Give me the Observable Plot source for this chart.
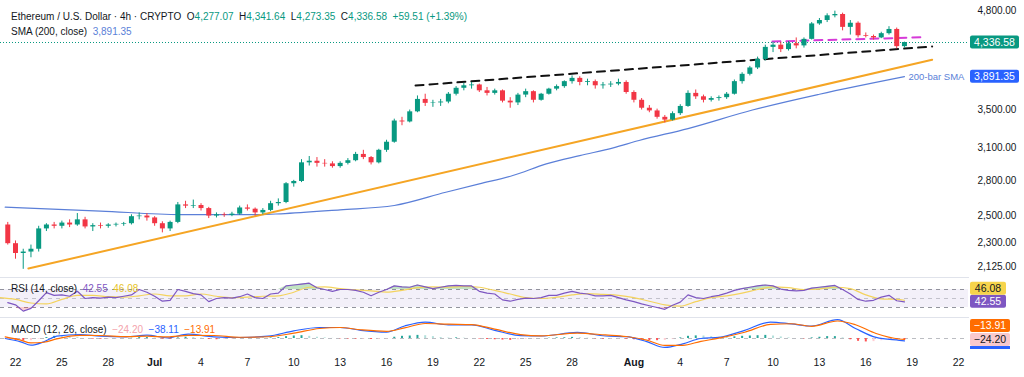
<!DOCTYPE html>
<html><head><meta charset="utf-8">
<script src="https://cdn.jsdelivr.net/npm/d3@7"></script>
<script src="https://cdn.jsdelivr.net/npm/@observablehq/plot@0.6"></script>
<style>
html,body{margin:0;padding:0;background:#fff;}
#wrap{position:relative;width:1024px;height:377px;overflow:hidden;background:#fff;font-family:"Liberation Sans",Arial,sans-serif;color:#131722;}
.lbl{position:absolute;left:11px;font-size:10px;white-space:nowrap;line-height:14px;}
</style></head><body><div id="wrap"></div>
<script>
// ---------- header texts ----------
const titleText = "Ethereum / U.S. Dollar · 4h · CRYPTO";
const ohlcKeys = ["O", "H", "L", "C"];
const ohlcVals = ["4,277.07", "4,341.64", "4,273.35", "4,336.58"];
const changeText = "+59.51 (+1.39%)";
const smaTitle = "SMA (200, close)";
const smaValText = "3,891.35";
const rsiTitle = "RSI (14, close)";
const rsiValTexts = ["42.55", "46.08"];
const macdTitle = "MACD (12, 26, close)";
const macdValTexts = ["\u221224.20", "\u221238.11", "\u221213.91"];
const smaLabel = "200-bar SMA";

// ---------- price candles (12h) ----------
const candleStart = "2025-06-21T12:00:00Z";
const firstOpen = 2430;
const closes = [2290,2220,2230,2250,2400,2430,2420,2445,2430,2470,2415,2425,2420,2430,2435,2440,2495,2500,2485,2440,2400,2450,2590,2580,2585,2560,2500,2510,2505,2515,2565,2555,2525,2545,2600,2610,2770,2790,2960,2975,2955,2950,2925,2955,2980,3040,3010,2960,3080,3160,3380,3370,3480,3620,3575,3580,3590,3680,3750,3780,3790,3720,3690,3720,3600,3580,3670,3710,3610,3680,3740,3770,3830,3870,3820,3830,3780,3790,3800,3820,3700,3610,3520,3490,3420,3390,3460,3540,3690,3650,3610,3630,3640,3680,3830,3920,4000,4110,4270,4300,4240,4320,4290,4380,4600,4650,4720,4740,4550,4610,4430,4420,4400,4460,4520,4280,4336.58];
const highs = [2450,2310,2250,2280,2420,2440,2450,2460,2470,2520,2490,2440,2445,2440,2445,2450,2510,2525,2520,2495,2455,2460,2610,2620,2630,2600,2570,2525,2525,2530,2580,2590,2565,2560,2620,2640,2780,2800,2990,3020,3010,2990,2970,2970,3000,3060,3080,3020,3090,3180,3400,3420,3500,3660,3680,3610,3620,3700,3770,3810,3820,3800,3760,3740,3730,3640,3690,3740,3720,3690,3750,3790,3840,3900,3890,3860,3850,3820,3830,3860,3840,3720,3630,3550,3510,3440,3480,3560,3720,3730,3670,3650,3660,3700,3850,3940,4020,4140,4300,4340,4340,4350,4400,4400,4620,4680,4750,4790,4760,4650,4630,4470,4440,4480,4560,4540,4341.64];
const lows = [2280,2180,2111,2190,2230,2380,2400,2400,2410,2420,2400,2380,2400,2405,2415,2420,2430,2470,2460,2420,2370,2380,2440,2560,2560,2540,2480,2485,2490,2495,2505,2540,2500,2510,2535,2580,2600,2740,2780,2930,2920,2920,2910,2910,2940,2970,2990,2940,2950,3060,3150,3330,3360,3470,3540,3530,3540,3570,3660,3720,3740,3700,3660,3670,3580,3520,3550,3640,3580,3600,3670,3720,3750,3800,3780,3780,3740,3740,3760,3780,3680,3580,3500,3470,3400,3360,3380,3440,3530,3620,3580,3590,3600,3620,3670,3800,3900,3980,4090,4200,4200,4220,4250,4260,4370,4580,4620,4690,4500,4440,4400,4400,4370,4390,4440,4250,4260];

// ---------- 200-bar SMA ----------
const smaDates = ["2025-06-21T08:00Z","2025-06-27T12:00Z","2025-07-02T16:00Z","2025-07-07T20:00Z","2025-07-09T04:00Z","2025-07-13T00:00Z","2025-07-16T12:00Z","2025-07-19T20:00Z","2025-07-22T00:00Z","2025-07-24T04:00Z","2025-07-26T08:00Z","2025-07-28T12:00Z","2025-07-30T16:00Z","2025-08-01T08:00Z","2025-08-04T12:00Z","2025-08-08T16:00Z","2025-08-13T00:00Z","2025-08-18T12:00Z"];
const smaValues = [2571,2540,2512,2512,2518,2550,2585,2696,2769,2843,2950,3029,3104,3177,3300,3500,3680,3891.35];

// ---------- drawn trend lines ----------
const orangeDates = ["2025-06-22T20:00Z","2025-08-20T07:00Z"];
const orangePrices = [2116, 4105];
const blackDates = ["2025-07-17T21:00Z","2025-08-20T07:00Z"];
const blackPrices = [3783, 4282];
const magentaDates = ["2025-08-09T23:00Z","2025-08-19T13:00Z"];
const magentaPrices = [4350, 4408];

// ---------- RSI (12h samples) ----------
const rsiValues = [41,36,22,28,45,63,57,58,55,66,50,52,51,53,52,55,58,70,64,55,44,46,70,66,61,58,43,50,52,51,54,60,52,50,60,62,78,80,82,84,74,70,66,70,70,68,64,56,64,70,78,76,75,80,76,72,75,78,79,78,78,66,62,60,47,44,48,51,50,52,57,57,62,66,62,60,56,56,57,52,47,43,38,34,30,26,35,42,58,52,50,54,57,62,68,72,75,78,80,78,71,68,67,68,73,75,77,79,70,60,48,44,46,53,57,45,42.55];
const rsiMaStart = "2025-06-21T00:00Z";
const rsiMaDaily = [52,48,40,38,48,57,57,54,53,56,60,56,56,60,55,52,53,55,56,64,75,76,72,69,67,64,68,74,76,75,77,75,68,60,52,50,53,58,61,59,57,52,44,36,33,43,52,56,62,70,76,74,70,71,75,72,58,49,48];
const rsiMaLastDate = "2025-08-18T12:00Z";
const rsiMaLast = 46.08;

// ---------- MACD ----------
const macdDates = ["2025-06-21T08:00Z","2025-06-22T08:00Z","2025-06-23T00:00Z","2025-06-23T20:00Z","2025-06-24T16:00Z","2025-06-26T04:00Z","2025-06-27T12:00Z","2025-06-29T04:00Z","2025-06-30T12:00Z","2025-07-01T20:00Z","2025-07-03T04:00Z","2025-07-04T20:00Z","2025-07-06T12:00Z","2025-07-08T08:00Z","2025-07-10T00:00Z","2025-07-11T16:00Z","2025-07-13T00:00Z","2025-07-14T08:00Z","2025-07-16T00:00Z","2025-07-17T04:00Z","2025-07-18T12:00Z","2025-07-20T00:00Z","2025-07-21T12:00Z","2025-07-23T00:00Z","2025-07-24T16:00Z","2025-07-26T00:00Z","2025-07-28T08:00Z","2025-07-30T04:00Z","2025-07-31T12:00Z","2025-08-01T20:00Z","2025-08-03T00:00Z","2025-08-04T04:00Z","2025-08-05T08:00Z","2025-08-06T12:00Z","2025-08-08T04:00Z","2025-08-09T20:00Z","2025-08-11T04:00Z","2025-08-12T12:00Z","2025-08-14T04:00Z","2025-08-15T08:00Z","2025-08-16T16:00Z","2025-08-18T04:00Z","2025-08-18T12:00Z"];
const macdLine = [0,-53,-107,-53,37,64,37,27,53,10,69,27,16,37,123,176,176,131,103,200,263,217,217,131,46,40,97,40,29,-51,-143,-86,0,17,131,263,234,200,303,160,17,-29,-38.11];
const macdSignal = [25,-27,-70,-60,-5,50,48,30,37,25,50,48,20,28,85,160,176,140,115,170,240,229,222,150,62,42,86,57,32,-25,-110,-109,-45,5,100,225,236,195,280,220,80,-8,-13.91];
const macdHist = [-20,-30,-40,-35,-10,15,35,30,20,15,0,-10,-12,-8,-5,-2,5,15,15,5,-10,-12,10,20,15,5,-15,-20,-15,-8,-2,5,3,5,10,15,30,40,45,35,20,10,2,-5,-8,-10,-10,-15,-12,-5,20,35,40,50,45,30,15,8,10,5,0,-8,-15,-20,-25,-30,-20,-12,-8,-4,5,10,12,18,12,5,-5,-10,-8,-5,-12,-20,-28,-32,-35,-30,-10,10,35,42,40,30,20,18,28,35,40,45,50,40,25,10,0,-5,10,20,30,30,10,-20,-45,-55,-50,-35,-20,-22,-24.2];

// ---------- axes ----------
const priceTicks = [2125, 2300, 2500, 2800, 3100, 3500, 4800];
const timeTicks = ["2025-06-22","2025-06-25","2025-06-28","2025-07-01","2025-07-04","2025-07-07","2025-07-10","2025-07-13","2025-07-16","2025-07-19","2025-07-22","2025-07-25","2025-07-28","2025-08-01","2025-08-04","2025-08-07","2025-08-10","2025-08-13","2025-08-16","2025-08-19","2025-08-22"];
const timeTickLabels = ["22","25","28","Jul","4","7","10","13","16","19","22","25","28","Aug","4","7","10","13","16","19","22"];
const monthNames = ["Jul","Aug"];

// ---------- build ----------
const UP = "#089981", DOWN = "#f23645";
const FONT = '"Liberation Sans", Arial, sans-serif';
const H12 = 12 * 3600 * 1000, DAY = 24 * 3600 * 1000;
const t0 = Date.parse(candleStart);
const candles = closes.map((c, i) => ({
  t: new Date(t0 + i * H12), o: i === 0 ? firstOpen : closes[i - 1], h: highs[i], l: lows[i], c
}));
candles.forEach(d => d.col = d.c >= d.o ? UP : DOWN);
const lastClose = closes[closes.length - 1];
const smaRows = smaDates.map((d, i) => ({t: new Date(d), v: smaValues[i]}));
const lineRows = (ds, vs) => ds.map((d, i) => ({t: new Date(d), v: vs[i]}));
const rsiRows = rsiValues.map((v, i) => ({t: new Date(t0 + i * H12), v}));
const rsiMaRows = rsiMaDaily.map((v, i) => ({t: new Date(Date.parse(rsiMaStart) + i * DAY), v}))
  .concat([{t: new Date(rsiMaLastDate), v: rsiMaLast}]);
const macdRows = macdDates.map((d, i) => ({t: new Date(d), m: macdLine[i], s: macdSignal[i]}));
const histRows = macdHist.map((v, i) => {
  const prev = i > 0 ? macdHist[i - 1] : v;
  let col;
  if (v >= 0) col = v >= prev ? "#26a69a" : "#b2dfdb";
  else col = v < prev ? "#ff5252" : "#ffcdd2";
  return {t: new Date(t0 + i * H12), v, col};
});

const xDomain = [new Date(Date.UTC(2025, 5, 21, 0, 43)), new Date(Date.UTC(2025, 7, 22, 15, 26))];
const common = {
  width: 1024, marginLeft: 0, marginRight: 56, marginTop: 0,
  style: {fontFamily: FONT, fontSize: "10px", color: "#131722", background: "transparent", overflow: "visible"},
  color: {type: "identity"}
};
const xOpt = {type: "utc", domain: xDomain, axis: null, label: null};
const wrap = document.getElementById("wrap");

const main = Plot.plot({
  ...common, height: 277, marginBottom: 0,
  x: xOpt,
  y: {type: "log", domain: [2057, 4955], axis: null, label: null},
  marks: [
    Plot.ruleY([lastClose], {stroke: UP, strokeDasharray: "1,2", strokeWidth: 1}),
    Plot.line(smaRows, {x: "t", y: "v", stroke: "#5b7fd8", strokeWidth: 1.2, curve: "monotone-x"}),
    Plot.line(lineRows(orangeDates, orangePrices), {x: "t", y: "v", stroke: "#f5a524", strokeWidth: 2}),
    Plot.line(lineRows(blackDates, blackPrices), {x: "t", y: "v", stroke: "#111", strokeWidth: 2, strokeDasharray: "8,6"}),
    Plot.line(lineRows(magentaDates, magentaPrices), {x: "t", y: "v", stroke: "#d63ad8", strokeWidth: 2, strokeDasharray: "8,6"}),
    Plot.ruleX(candles, {x: "t", y1: "l", y2: "h", stroke: "col", strokeWidth: 1}),
    Plot.ruleX(candles, {x: "t", y1: "o", y2: "c", stroke: "col", strokeWidth: 5}),
    Plot.text(smaRows.slice(-1), {x: "t", y: "v", text: () => smaLabel, dx: 4, textAnchor: "start", fill: "#5b7fd8", fontSize: 9.5}),
    Plot.axisY({anchor: "right", ticks: priceTicks, tickFormat: d3.format(",.2f"), tickSize: 0, tickPadding: 9, fill: "#131722", fontSize: 10, label: null})
  ]
});

const rsiPlot = Plot.plot({
  ...common, height: 40, marginBottom: 0,
  x: xOpt,
  y: {domain: [7.8, 96.7], axis: null, label: null},
  marks: [
    Plot.rectY([0], {x1: () => xDomain[0], x2: () => xDomain[1], y1: 30, y2: 70, fill: "#7e57c2", fillOpacity: 0.09}),
    Plot.ruleY([70, 30], {stroke: "#787b86", strokeDasharray: "4,4", strokeOpacity: 0.8}),
    Plot.ruleY([50], {stroke: "#787b86", strokeDasharray: "4,4", strokeOpacity: 0.4}),
    Plot.areaY(rsiRows, {x: "t", y1: 70, y2: d => Math.max(70, d.v), fill: "#4caf50", fillOpacity: 0.35}),
    Plot.areaY(rsiRows, {x: "t", y1: 30, y2: d => Math.min(30, d.v), fill: "#f23645", fillOpacity: 0.25}),
    Plot.line(rsiMaRows, {x: "t", y: "v", stroke: "#f4d35e", strokeWidth: 1.2, curve: "monotone-x"}),
    Plot.line(rsiRows, {x: "t", y: "v", stroke: "#7e57c2", strokeWidth: 1.2}),
    Plot.frame({anchor: "top", stroke: "#e0e3eb"})
  ]
});

const labelByTime = new Map(timeTicks.map((d, i) => [Date.parse(d), timeTickLabels[i]]));
const dayTicks = timeTicks.filter((d, i) => !monthNames.includes(timeTickLabels[i])).map(d => new Date(d));
const monthTicks = timeTicks.filter((d, i) => monthNames.includes(timeTickLabels[i])).map(d => new Date(d));

const macdPlot = Plot.plot({
  ...common, height: 60, marginBottom: 25,
  x: xOpt,
  y: {domain: [-224, 336], axis: null, label: null},
  marks: [
    Plot.ruleY([0], {stroke: "#787b86", strokeDasharray: "4,4", strokeOpacity: 0.5}),
    Plot.ruleX(histRows, {x: "t", y1: 0, y2: "v", stroke: "col", strokeWidth: 2}),
    Plot.line(macdRows, {x: "t", y: "m", stroke: "#2962ff", strokeWidth: 1.2, curve: "monotone-x"}),
    Plot.line(macdRows, {x: "t", y: "s", stroke: "#ff6d00", strokeWidth: 1.2, curve: "monotone-x"}),
    Plot.frame({anchor: "top", stroke: "#e0e3eb"}),
    Plot.axisX(dayTicks, {tickFormat: d => labelByTime.get(+d), tickSize: 0, tickPadding: 6, fill: "#131722", fontSize: 10.5, label: null}),
    Plot.axisX(monthTicks, {tickFormat: d => labelByTime.get(+d), tickSize: 0, tickPadding: 6, fill: "#131722", fontSize: 10.5, fontWeight: "bold", label: null})
  ]
});

function place(el, top) {
  el.style.position = "absolute"; el.style.left = "0px"; el.style.top = top + "px";
  wrap.appendChild(el);
}
place(main, 0); place(rsiPlot, 277); place(macdPlot, 317);

function box(svg, yc, text, bg, fg, w) {
  const g = d3.select(svg).append("g");
  g.append("rect").attr("x", 970).attr("y", yc - 6.5).attr("width", w).attr("height", 13).attr("rx", 2).attr("fill", bg);
  g.append("text").attr("x", 970 + w / 2).attr("y", yc).attr("dy", "0.35em").attr("text-anchor", "middle")
    .attr("fill", fg).attr("font-size", 10.5).attr("font-family", FONT).text(text);
}
const yMain = main.scale("y"), yRsi = rsiPlot.scale("y"), yMacd = macdPlot.scale("y");
box(main, yMain.apply(lastClose), ohlcVals[3], UP, "#fff", 49);
box(main, yMain.apply(smaValues[smaValues.length - 1]), smaValText, "#2962ff", "#fff", 49);
const rsiY = yRsi.apply(rsiValues[rsiValues.length - 1]);
box(rsiPlot, rsiY, rsiValTexts[0], "#7e57c2", "#fff", 36);
box(rsiPlot, Math.min(yRsi.apply(rsiMaLast), rsiY - 13), rsiValTexts[1], "#f6d44c", "#131722", 36);
const histY = yMacd.apply(macdHist[macdHist.length - 1]);
d3.select(macdPlot).append("rect").attr("x", 970).attr("y", histY + 6.5).attr("width", 40).attr("height", 3).attr("fill", "#2962ff");
box(macdPlot, histY, macdValTexts[0], "#f9c9cd", "#131722", 40);
box(macdPlot, histY - 14, macdValTexts[2], "#ff6d00", "#fff", 40);

// text overlays
function lbl(top, html) {
  const d = document.createElement("div"); d.className = "lbl"; d.style.top = top + "px"; d.innerHTML = html; wrap.appendChild(d);
}
const sp = (c, t) => `<span style="color:${c}">${t}</span>`;
lbl(10, `${titleText}&nbsp;&nbsp;` + ohlcKeys.map((k, i) => k + sp(UP, ohlcVals[i])).join("&nbsp;&nbsp;") + "&nbsp;&nbsp;" + sp(UP, changeText));
lbl(25, `${smaTitle}&nbsp;&nbsp;` + sp("#5b7fd8", smaValText));
lbl(282, `${rsiTitle}&nbsp;&nbsp;` + sp("#7e57c2", rsiValTexts[0]) + "&nbsp;&nbsp;" + sp("#e6c229", rsiValTexts[1]));
lbl(323, `${macdTitle}&nbsp;&nbsp;` + sp("#f4a3ab", macdValTexts[0]) + "&nbsp;&nbsp;" + sp("#2962ff", macdValTexts[1]) + "&nbsp;&nbsp;" + sp("#ff6d00", macdValTexts[2]));
</script></body></html>
